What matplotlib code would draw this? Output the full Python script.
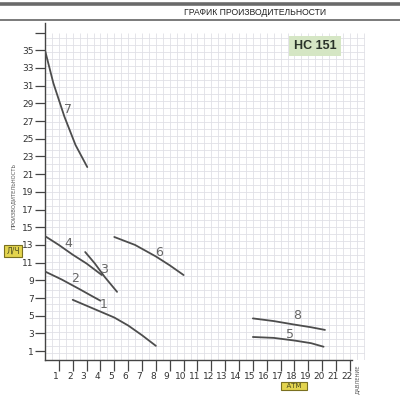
import numpy as np
import matplotlib
matplotlib.use("Agg")
import matplotlib.pyplot as plt
from matplotlib.lines import Line2D
from matplotlib.transforms import ScaledTranslation

# ---------------- data ----------------
x1 = [2.0, 3.5, 5.0, 6.0, 7.0, 8.0]
y1 = [6.8, 5.8, 4.8, 3.9, 2.8, 1.6]
x2 = [0.0, 1.2, 2.5, 3.3, 4.0]
y2 = [10.0, 9.1, 8.0, 7.3, 6.7]
x3 = [2.9, 3.6, 4.3, 5.2]
y3 = [12.2, 10.9, 9.4, 7.7]
x4 = [0.0, 1.0, 2.0, 3.0, 4.1]
y4 = [14.0, 13.0, 11.9, 10.9, 9.6]
x5 = [15.0, 16.5, 18.0, 19.2, 20.1]
y5 = [2.6, 2.5, 2.2, 1.9, 1.5]
x6 = [5.0, 6.5, 8.0, 9.0, 10.0]
y6 = [13.9, 13.0, 11.7, 10.7, 9.6]
x7 = [0.0, 0.6, 1.4, 2.2, 3.05]
y7 = [35.0, 31.3, 27.5, 24.3, 21.8]
x8 = [15.0, 16.5, 18.0, 19.2, 20.2]
y8 = [4.7, 4.4, 4.0, 3.7, 3.4]

curves = [(x1, y1), (x2, y2), (x3, y3), (x4, y4),
          (x5, y5), (x6, y6), (x7, y7), (x8, y8)]
curve_names = ["1", "2", "3", "4", "5", "6", "7", "8"]
label_x = [4.2, 2.2, 4.25, 1.65, 17.7, 8.2, 1.65, 18.2]
label_y = [6.3, 9.2, 10.2, 13.2, 2.9, 12.2, 28.3, 5.0]

x_ticks = list(range(1, 23))
y_ticks = list(range(1, 38, 2))
y_tick_labels = [str(v) if v <= 35 else "" for v in y_ticks]

# ---------------- figure ----------------
fig = plt.figure(figsize=(4, 4), dpi=100)
fig.patch.set_facecolor("white")

# header band
fig.add_artist(Line2D([0, 1], [1 - 4 / 400] * 2, color="#6a6a6a", lw=2.6))
fig.add_artist(Line2D([0, 1], [1 - 20 / 400] * 2, color="#7a7a7a", lw=1.4))
fig.text(255 / 400, 1 - 12.5 / 400, "ГРАФИК ПРОИЗВОДИТЕЛЬНОСТИ",
         ha="center", va="center", fontsize=6.2, color="#222222",
         family="Liberation Sans")

ax = fig.add_axes([45 / 400, 40 / 400, 320 / 400, 337 / 400])
ax.set_xlim(0, 23.09)
ax.set_ylim(0, 38.08)

# graph paper grid
gx = np.arange(0.5, 23.1, 0.5)
gy = np.arange(0.79, 37.1, 0.79)
ax.vlines(gx, 0, 37.0, color="#e0e0e6", lw=0.6, zorder=0)
ax.hlines(gy, 0, 23.09, color="#e0e0e6", lw=0.6, zorder=0)

# spines
for s in ["top", "right"]:
    ax.spines[s].set_visible(False)
ax.spines["bottom"].set_bounds(0, 22.15)
ax.spines["left"].set_color("#444444")
ax.spines["bottom"].set_color("#444444")
ax.spines["left"].set_linewidth(1.0)
ax.spines["bottom"].set_linewidth(1.0)

ax.set_xticks(x_ticks)
ax.set_xticklabels([str(v) for v in x_ticks])
ax.set_yticks(y_ticks)
ax.set_yticklabels(y_tick_labels)
ax.tick_params(axis="x", direction="out", length=8, width=0.9, color="#444444",
               labelsize=6.5, labelcolor="#333333", pad=0.5)
ax.tick_params(axis="y", direction="out", length=7, width=0.9, color="#444444",
               labelsize=6.5, labelcolor="#333333", pad=1)
shift = ScaledTranslation(-3 / 100, 0, fig.dpi_scale_trans)
for lab in ax.get_xticklabels():
    lab.set_transform(lab.get_transform() + shift)

# curves
for (cx, cy), name, lx, ly in zip(curves, curve_names, label_x, label_y):
    ax.plot(cx, cy, color="#4d4d4d", lw=1.3, solid_capstyle="round", zorder=3)
    ax.text(lx, ly, name, fontsize=9, color="#666666", ha="center",
            va="center", zorder=4)

# model badge
fig.text(315 / 400, 1 - 46 / 400, "НС 151", ha="center", va="center",
         fontsize=9, fontweight="bold", color="#2a332a", family="Liberation Sans",
         bbox=dict(boxstyle="square,pad=0.35", fc="#d5e6c4", ec="none"))

# axis captions
fig.text(13 / 400, 1 - 196 / 400, "ПРОИЗВОДИТЕЛЬНОСТЬ", rotation=90,
         ha="center", va="center", fontsize=3.8, color="#555555")
fig.text(13 / 400, 1 - 251 / 400, "Л/Ч", ha="center", va="center",
         fontsize=5.5, color="#4a4a20",
         bbox=dict(boxstyle="square,pad=0.25", fc="#e3d44e", ec="#7a7020", lw=0.8))
fig.text(294 / 400, 1 - 386 / 400, "  АТМ  ", ha="center", va="center",
         fontsize=5, color="#4a4a20",
         bbox=dict(boxstyle="square,pad=0.2", fc="#e3d44e", ec="#7a7020", lw=0.8))
fig.text(357 / 400, 1 - 379 / 400, "ДАВЛЕНИЕ", rotation=90,
         ha="center", va="center", fontsize=3.8, color="#555555")

fig.savefig("out.png", dpi=100)
